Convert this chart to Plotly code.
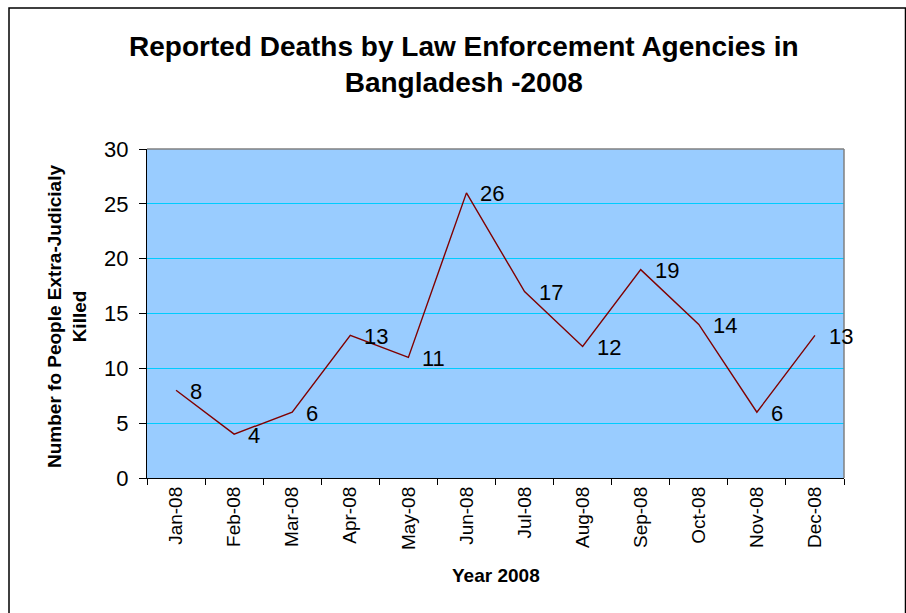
import plotly.graph_objects as go

months = ["Jan-08", "Feb-08", "Mar-08", "Apr-08", "May-08", "Jun-08",
          "Jul-08", "Aug-08", "Sep-08", "Oct-08", "Nov-08", "Dec-08"]
deaths = [8, 4, 6, 13, 11, 26, 17, 12, 19, 14, 6, 13]
y_ticks = [0, 5, 10, 15, 20, 25, 30]

FONT = "Liberation Sans, Arial, sans-serif"
W, H = 906, 613
L, R, T, B = 147, 62, 149, 135
pw, ph = W - L - R, H - T - B

def px_x(p):
    return (p - L) / pw

def px_y(p):
    return (H - B - p) / ph

fig = go.Figure()
fig.add_trace(go.Scatter(
    x=months, y=deaths, mode="lines",
    line=dict(color="#800000", width=1.4),
    hoverinfo="skip", showlegend=False,
))

annotations = []
for m, v in zip(months, deaths):
    annotations.append(dict(
        x=m, y=v, xref="x", yref="y", text=str(v), showarrow=False,
        xanchor="left", yanchor="middle", xshift=12, yshift=-1,
        font=dict(family=FONT, size=22, color="black"),
    ))

annotations += [
    dict(x=px_x(496), y=px_y(575), xref="paper", yref="paper",
         text="<b>Year 2008</b>", showarrow=False, xanchor="center", yanchor="middle",
         font=dict(family=FONT, size=19, color="black")),
    dict(x=px_x(67), y=px_y(317), xref="paper", yref="paper",
         text="<b>Number fo People Extra-Judicialy<br>Killed</b>", showarrow=False,
         textangle=-90, xanchor="center", yanchor="middle",
         font=dict(family=FONT, size=19, color="black")),
    dict(x=px_x(464), y=px_y(64), xref="paper", yref="paper",
         text="<b>Reported Deaths by Law Enforcement Agencies in<br>Bangladesh -2008</b>",
         showarrow=False, xanchor="center", yanchor="middle",
         font=dict(family=FONT, size=28, color="black")),
]

shapes = [
    # outer chart border
    dict(type="rect", xref="paper", yref="paper",
         x0=px_x(9), x1=px_x(905.5), y0=px_y(625), y1=px_y(8),
         line=dict(color="black", width=1.5), fillcolor="rgba(0,0,0,0)", layer="below"),
    # plot area top and right borders (gray)
    dict(type="line", xref="paper", yref="paper", x0=0, x1=1, y0=1, y1=1,
         line=dict(color="#808080", width=1.5)),
    dict(type="line", xref="paper", yref="paper", x0=1, x1=1, y0=0, y1=1,
         line=dict(color="#808080", width=1.5)),
]

fig.update_layout(
    width=W, height=H,
    margin=dict(l=L, r=R, t=T, b=B, autoexpand=False),
    paper_bgcolor="white", plot_bgcolor="#99CCFF",
    annotations=annotations, shapes=shapes,
    font=dict(family=FONT, color="black"),
    xaxis=dict(
        type="category", tickson="boundaries", ticks="outside", ticklen=6,
        tickcolor="black", tickwidth=1, showgrid=False, showline=True,
        linecolor="black", linewidth=1.3, tickangle=-90,
        tickfont=dict(family=FONT, size=19), range=[-0.5, 11.5],
    ),
    yaxis=dict(
        range=[0, 30], tickvals=y_ticks, ticks="outside", ticklen=7,
        tickcolor="black", tickwidth=1, showgrid=True, gridcolor="#00CCFF",
        gridwidth=1, showline=True, linecolor="black", linewidth=1.3,
        zeroline=False, tickfont=dict(family=FONT, size=22),
        ticklabelstandoff=6,
    ),
)

fig.write_html("out.html", config={"displayModeBar": False},
               post_script="document.body.style.margin='0';")
